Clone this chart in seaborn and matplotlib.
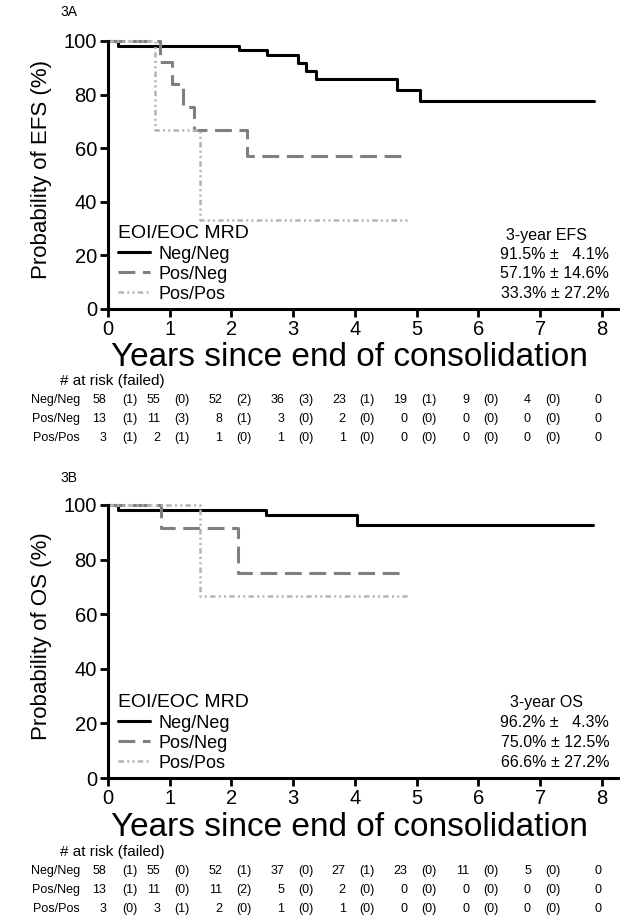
import matplotlib
matplotlib.use("Agg")
import matplotlib.pyplot as plt
import numpy as np
import pandas as pd
import seaborn as sns

groups = ["Neg/Neg", "Pos/Neg", "Pos/Pos"]

# EFS curves (step times in years, survival %)
efs_negneg_t = [0, 0.17, 2.12, 2.57, 3.07, 3.20, 3.37, 4.68, 5.05, 7.87]
efs_negneg_s = [100, 98.3, 96.5, 94.6, 91.8, 88.9, 85.7, 81.7, 77.5, 77.5]
efs_posneg_t = [0, 0.85, 1.04, 1.22, 1.39, 2.25, 4.77]
efs_posneg_s = [100, 92.3, 83.9, 75.5, 66.7, 57.1, 57.1]
efs_pospos_t = [0, 0.76, 1.49, 4.87]
efs_pospos_s = [100, 66.7, 33.3, 33.3]

# OS curves
os_negneg_t = [0, 0.17, 2.56, 4.03, 7.85]
os_negneg_s = [100, 98.3, 96.5, 92.7, 92.7]
os_posneg_t = [0, 0.86, 2.10, 4.78]
os_posneg_s = [100, 91.7, 75.0, 75.0]
os_pospos_t = [0, 1.49, 4.85]
os_pospos_s = [100, 66.6, 66.6]

efs_3yr = ["91.5% \u00b1   4.1%", "57.1% \u00b1 14.6%", "33.3% \u00b1 27.2%"]
os_3yr = ["96.2% \u00b1   4.3%", "75.0% \u00b1 12.5%", "66.6% \u00b1 27.2%"]

# numbers at risk / failed per year
efs_risk = {"Neg/Neg": [58, 55, 52, 36, 23, 19, 9, 4, 0],
            "Pos/Neg": [13, 11, 8, 3, 2, 0, 0, 0, 0],
            "Pos/Pos": [3, 2, 1, 1, 1, 0, 0, 0, 0]}
efs_failed = {"Neg/Neg": [1, 0, 2, 3, 1, 1, 0, 0],
              "Pos/Neg": [1, 3, 1, 0, 0, 0, 0, 0],
              "Pos/Pos": [1, 1, 0, 0, 0, 0, 0, 0]}
os_risk = {"Neg/Neg": [58, 55, 52, 37, 27, 23, 11, 5, 0],
           "Pos/Neg": [13, 11, 11, 5, 2, 0, 0, 0, 0],
           "Pos/Pos": [3, 3, 2, 1, 1, 0, 0, 0, 0]}
os_failed = {"Neg/Neg": [1, 0, 1, 0, 1, 0, 0, 0],
             "Pos/Neg": [1, 0, 2, 0, 0, 0, 0, 0],
             "Pos/Pos": [0, 1, 0, 0, 0, 0, 0, 0]}

sns.set_style("ticks")
plt.rcParams["font.family"] = ["Liberation Sans", "DejaVu Sans"]
plt.rcParams.update({"text.color": "black", "axes.labelcolor": "black",
                     "xtick.color": "black", "ytick.color": "black",
                     "axes.edgecolor": "black"})

palette = {"Neg/Neg": "black", "Pos/Neg": "#7f7f7f", "Pos/Pos": "#b3b3b3"}
dashes = {"Neg/Neg": "", "Pos/Neg": (5.5, 2.5), "Pos/Pos": (2.2, 1.3, 0.8, 1.3, 0.8, 1.3)}
widths = {"Neg/Neg": 2.2, "Pos/Neg": 2.2, "Pos/Pos": 1.8}


def make_df(curves):
    rows = []
    for g, (t, s) in zip(groups, curves):
        for ti, si in zip(t, s):
            rows.append({"t": ti, "s": si, "group": g})
    return pd.DataFrame(rows)


def draw_panel(ax, df, ylabel, est_title, est_vals, risk, failed):
    sns.lineplot(data=df, x="t", y="s", hue="group", style="group",
                 palette=palette, dashes=dashes, drawstyle="steps-post",
                 estimator=None, sort=False, legend=False, ax=ax)
    for line, g in zip(ax.lines, groups):
        line.set_linewidth(widths[g])
        line.set_clip_on(False)

    ax.set_xlim(0, 8.26)
    ax.set_ylim(0, 100)
    ax.set_xticks(range(9))
    ax.set_yticks(range(0, 101, 20))
    sns.despine(ax=ax)
    for sp in ["left", "bottom"]:
        ax.spines[sp].set_linewidth(2.2)
    ax.tick_params(direction="out", length=6, width=2, labelsize=14.5, pad=2)

    ax.set_xlabel("Years since end of consolidation", fontsize=24)
    ax.xaxis.set_label_coords(0.473, -0.125)
    ax.set_ylabel(ylabel, fontsize=16)
    ax.yaxis.set_label_coords(-0.11, 0.52)

    # legend
    handles = [plt.Line2D([], [], color=palette[g], lw=widths[g],
                          dashes=(dashes[g] if dashes[g] else (None, None)))
               for g in groups]
    leg = ax.legend(handles, groups, title="EOI/EOC MRD", loc="lower left",
                    bbox_to_anchor=(0.012, 0.01), frameon=False, fontsize=13,
                    title_fontsize=14, handlelength=1.8, handletextpad=0.45,
                    labelspacing=0.17, borderpad=0.2, borderaxespad=0)
    leg._legend_box.align = "left"

    # 3-year estimates
    ax.text(7.11, 27.6, est_title, ha="center", va="center", fontsize=11.5)
    for v, y in zip(est_vals, [20.3, 13.1, 5.6]):
        ax.text(8.12, y, v, ha="right", va="center", fontsize=11.5)

    # risk table
    tr = ax.get_xaxis_transform()
    ax.text(-0.78, -0.27, "# at risk (failed)", transform=tr,
            ha="left", va="center", fontsize=11)
    risk_x = np.arange(9) - 0.15
    risk_x[0] = -0.03
    risk_x[-1] = 8.0
    fail_x = np.arange(8) + 0.2
    fail_x[0] = 0.36
    for g, y in zip(groups, [-0.34, -0.41, -0.48]):
        ax.text(-0.45, y, g, transform=tr, ha="right", va="center", fontsize=9)
        for x, n in zip(risk_x, risk[g]):
            ax.text(x, y, str(n), transform=tr, ha="right", va="center", fontsize=9)
        for x, n in zip(fail_x, failed[g]):
            ax.text(x, y, f"({n})", transform=tr, ha="center", va="center", fontsize=9)


fig = plt.figure(figsize=(6.25, 9.15), dpi=100)
ax1 = fig.add_axes([0.1728, 0.6623, 0.816, 0.2929])
ax2 = fig.add_axes([0.1728, 0.1497, 0.816, 0.2984])

efs_df = make_df([(efs_negneg_t, efs_negneg_s), (efs_posneg_t, efs_posneg_s),
                  (efs_pospos_t, efs_pospos_s)])
os_df = make_df([(os_negneg_t, os_negneg_s), (os_posneg_t, os_posneg_s),
                 (os_pospos_t, os_pospos_s)])

draw_panel(ax1, efs_df, "Probability of EFS (%)", "3-year EFS", efs_3yr,
           efs_risk, efs_failed)
draw_panel(ax2, os_df, "Probability of OS (%)", "3-year OS", os_3yr,
           os_risk, os_failed)

fig.text(60 / 625, 1 - 12 / 915, "3A", ha="left", va="center", fontsize=10)
fig.text(60 / 625, 1 - 478 / 915, "3B", ha="left", va="center", fontsize=10)

fig.savefig("out.png", dpi=100)
